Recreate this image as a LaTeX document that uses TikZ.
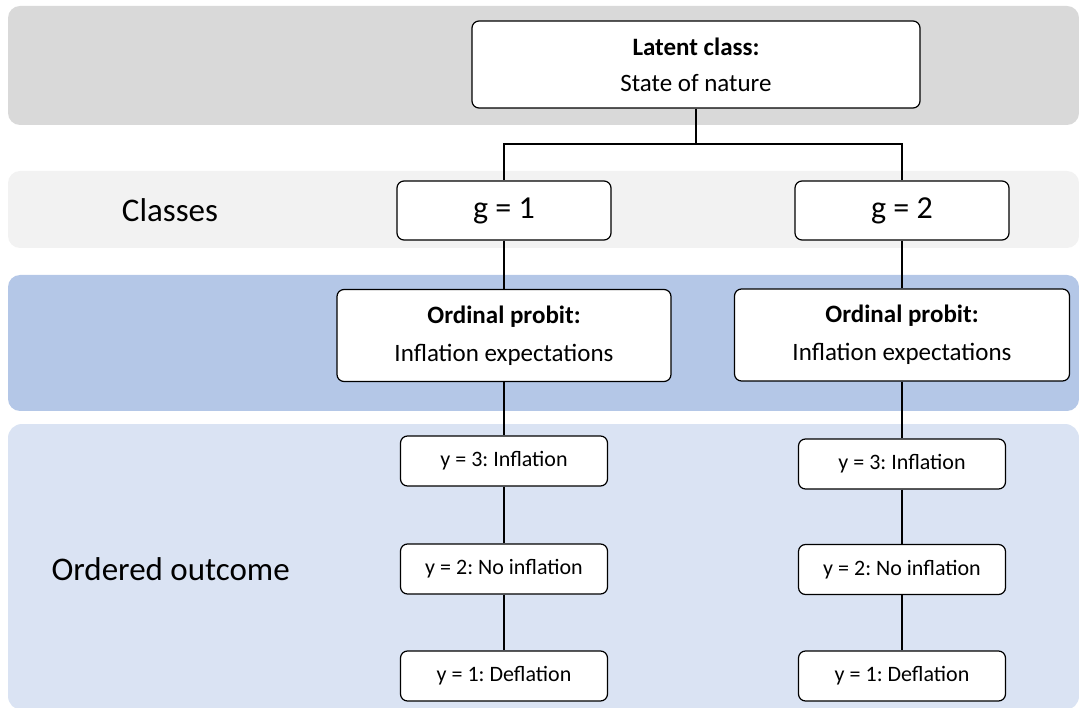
\documentclass[tikz,border=0pt]{standalone}
\usepackage{fontspec}
\setmainfont{Carlito}
\frenchspacing
\definecolor{bandgray}{HTML}{D9D9D9}
\definecolor{bandlight}{HTML}{F2F2F2}
\definecolor{bandblue}{HTML}{B4C7E7}
\definecolor{bandpale}{HTML}{DAE3F3}
\begin{document}
\begin{tikzpicture}[x=1pt, y=-1pt,
  box/.style={draw, line width=1.2pt, rounded corners=7pt, fill=white,
    inner sep=0pt, align=center},
  link/.style={line width=1.7pt},
  rowlabel/.style={font=\fontsize{33}{40}\selectfont}]
\useasboundingbox (0,0) rectangle (1079,708);
%
% ---- Bands ----
\fill[bandgray, rounded corners=12pt] (8,6) rectangle (1079,125);
\fill[bandlight, rounded corners=12pt] (8,171) rectangle (1079,248);
\fill[bandblue, rounded corners=12pt] (8,275) rectangle (1079,411);
\fill[bandpale, rounded corners=14pt] (8,424) rectangle (1079,710);
%
% ---- Row labels ----
\node[rowlabel] (classes) at (170,210) {Classes};
\node[rowlabel, anchor=west] (ordered) at (48,569) {Ordered outcome};
%
% ---- Nodes ----
\node[box, minimum width=448pt, minimum height=87pt,
  font=\fontsize{25}{36}\selectfont] (latent) at (696,64.5)
  {\textbf{Latent class:}\\State of nature};
\node[box, minimum width=214pt, minimum height=59pt,
  font=\fontsize{32}{38}\selectfont] (g1) at (504,210.5) {g = 1};
\node[box, minimum width=214pt, minimum height=59pt,
  font=\fontsize{32}{38}\selectfont] (g2) at (902,210.5) {g = 2};
\node[box, minimum width=334pt, minimum height=92pt,
  font=\fontsize{25}{38}\selectfont] (probit1) at (504,335.5)
  {\textbf{Ordinal probit:}\\Inflation expectations};
\node[box, minimum width=335pt, minimum height=92pt,
  font=\fontsize{25}{38}\selectfont] (probit2) at (902,335)
  {\textbf{Ordinal probit:}\\Inflation expectations};
\node[box, minimum width=207pt, minimum height=50pt,
  font=\fontsize{22}{26}\selectfont] (infl1) at (504,461) {y = 3: Inflation};
\node[box, minimum width=207pt, minimum height=50pt,
  font=\fontsize{22}{26}\selectfont] (none1) at (504,569) {y = 2: No inflation};
\node[box, minimum width=207pt, minimum height=50pt,
  font=\fontsize{22}{26}\selectfont] (defl1) at (504,676) {y = 1: Deflation};
\node[box, minimum width=207pt, minimum height=50pt,
  font=\fontsize{22}{26}\selectfont] (infl2) at (902,464) {y = 3: Inflation};
\node[box, minimum width=207pt, minimum height=50pt,
  font=\fontsize{22}{26}\selectfont] (none2) at (902,569.5) {y = 2: No inflation};
\node[box, minimum width=207pt, minimum height=50pt,
  font=\fontsize{22}{26}\selectfont] (defl2) at (902,676) {y = 1: Deflation};
%
% ---- Links ----
\coordinate (fork) at (696,144);
\draw[link] (latent) -- (fork);
\draw[link] (fork) -| (g1);
\draw[link] (fork) -| (g2);
\draw[link] (g1) -- (probit1);
\draw[link] (g2) -- (probit2);
\draw[link] (probit1) -- (infl1);
\draw[link] (infl1) -- (none1);
\draw[link] (none1) -- (defl1);
\draw[link] (probit2) -- (infl2);
\draw[link] (infl2) -- (none2);
\draw[link] (none2) -- (defl2);
\end{tikzpicture}
\end{document}
